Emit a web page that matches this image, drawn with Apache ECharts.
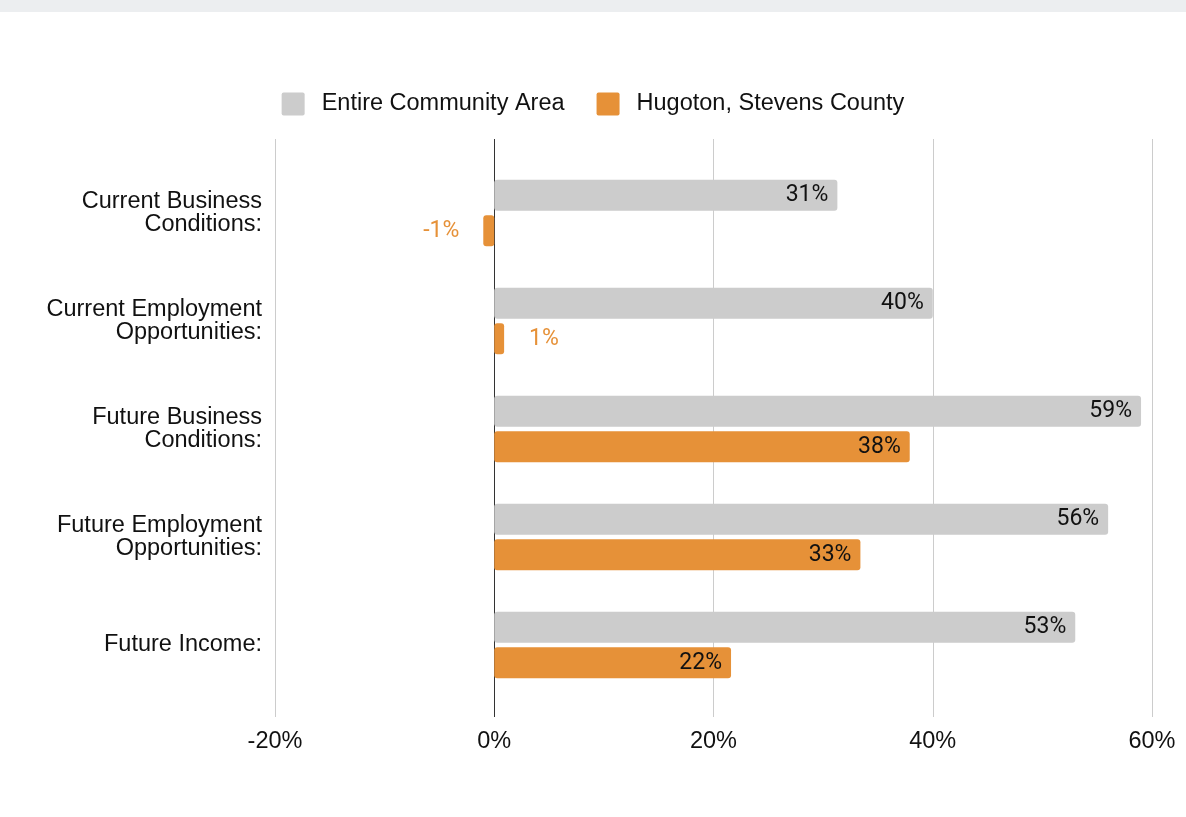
<!DOCTYPE html>
<html><head><meta charset="utf-8">
<script src="https://cdn.jsdelivr.net/npm/echarts@6/dist/echarts.min.js"></script>
<style>html,body{margin:0;padding:0;background:#fff}#c{width:1186px;height:817px}</style>
</head><body><div id="c"></div>
<script>
const categories = ['Current Business\nConditions:', 'Current Employment\nOpportunities:', 'Future Business\nConditions:', 'Future Employment\nOpportunities:', 'Future Income:'];
const seriesNames = ['Entire Community Area', 'Hugoton, Stevens County'];
const entireCommunity = [31.3, 40, 59, 56, 53];
const hugoton = [-1, 0.9, 37.9, 33.4, 21.6];
const xTickValues = [-20, 0, 20, 40, 60];

const GRAY = '#cccccc', ORANGE = '#e69138', TEXT = '#111111';
const textFont = "'Liberation Sans', Arial, sans-serif";
const labelFont = "Roboto, sans-serif";
const FS = 23.5;
const xMin = xTickValues[0], xMax = xTickValues[xTickValues.length - 1], xStep = xTickValues[1] - xTickValues[0];
const pct = p => Math.round(p.value) + '%';

function orangeData(vals) {
  return vals.map(v => {
    if (Math.abs(v) >= 5) return { value: v };
    return { value: v, label: { position: v < 0 ? 'left' : 'right', distance: v < 0 ? 24 : 25, color: ORANGE } };
  });
}

const chart = echarts.init(document.getElementById('c'));
chart.setOption({
  animation: false,
  backgroundColor: '#ffffff',
  graphic: [{ type: 'rect', left: 0, top: 0, shape: { width: 1186, height: 12 }, style: { fill: '#eceef0' }, silent: true }],
  legend: {
    top: 87, left: 'center', itemWidth: 23, itemHeight: 23, itemGap: 32,
    icon: 'path://M2,0 H21 Q23,0 23,2 V21 Q23,23 21,23 H2 Q0,23 0,21 V2 Q0,0 2,0 Z',
    textStyle: { fontFamily: textFont, fontSize: FS, color: TEXT, padding: [0, 0, 0, 12] },
    data: seriesNames
  },
  grid: [
    { left: 275, right: 34, top: 139, bottom: 100 },
    { left: 275, right: 34, top: 159, bottom: 118 }
  ],
  xAxis: [
    { gridIndex: 0, type: 'value', min: xMin, max: xMax, interval: xStep,
      axisLine: { show: false }, axisTick: { show: false },
      axisLabel: { formatter: '{value}%', fontFamily: textFont, fontSize: FS, color: TEXT, margin: 13 },
      splitLine: { show: true, lineStyle: { color: ['#cccccc', '#333333', '#cccccc', '#cccccc', '#cccccc'], width: 1 } } },
    { gridIndex: 1, type: 'value', min: xMin, max: xMax, interval: xStep, show: false, splitLine: { show: false } }
  ],
  yAxis: [
    { gridIndex: 0, type: 'value', show: false },
    { gridIndex: 1, type: 'category', data: categories, inverse: true,
      axisLine: { show: false }, axisTick: { show: false }, splitLine: { show: false },
      axisLabel: { fontFamily: textFont, fontSize: FS, lineHeight: 23, color: TEXT, margin: 13, align: 'right' } }
  ],
  series: [
    { name: seriesNames[0], type: 'bar', xAxisIndex: 1, yAxisIndex: 1, data: entireCommunity,
      barWidth: 31, barGap: '15%', itemStyle: { color: GRAY, borderRadius: 3 },
      label: { show: true, position: 'insideRight', distance: 9, formatter: pct, fontFamily: labelFont, fontSize: 23, color: TEXT } },
    { name: seriesNames[1], type: 'bar', xAxisIndex: 1, yAxisIndex: 1, data: orangeData(hugoton),
      barWidth: 31, barGap: '15%', itemStyle: { color: ORANGE, borderRadius: 3 },
      label: { show: true, position: 'insideRight', distance: 9, formatter: pct, fontFamily: labelFont, fontSize: 23, color: TEXT } }
  ]
});
</script>
</body></html>
